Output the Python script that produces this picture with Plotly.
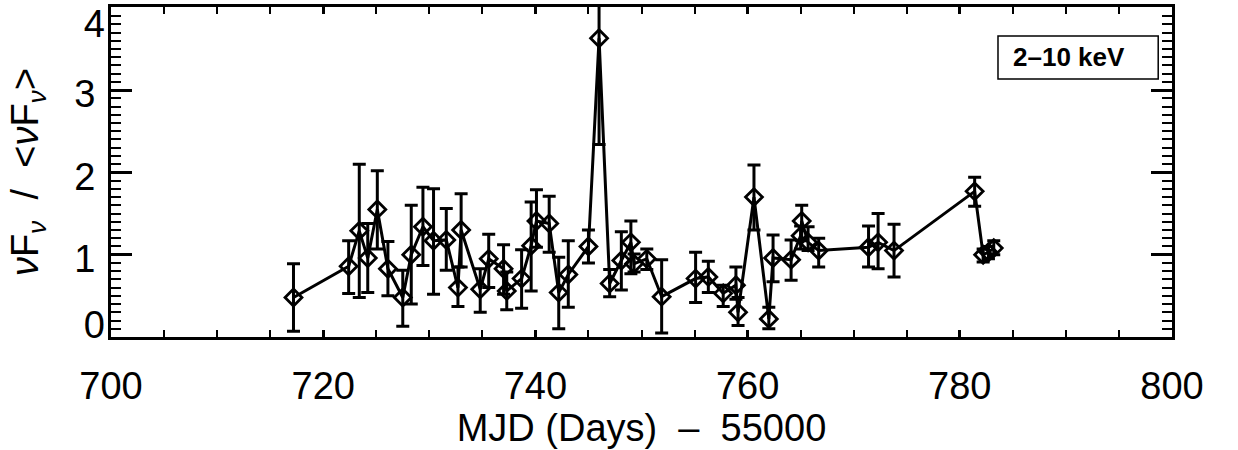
import plotly.graph_objects as go

# MJD - 55000
mjd = [717.2, 722.4, 723.4, 724.2, 725.1, 726.1, 727.5, 728.3, 729.4, 730.4,
       731.6, 732.7, 733.0, 734.8, 735.6, 737.0, 737.3, 738.7, 739.6, 740.1,
       741.3, 742.2, 743.1, 745.0, 746.0, 747.0, 748.1, 749.0, 749.3, 750.5,
       751.9, 755.1, 756.3, 757.7, 758.9, 759.1, 760.6, 762.0, 762.4, 764.1,
       765.0, 765.1, 765.7, 766.7, 771.4, 772.3, 773.8, 781.4, 782.2, 782.7,
       783.2]
# normalised flux
flux = [0.48, 0.86, 1.29, 0.96, 1.55, 0.83, 0.48, 1.00, 1.34, 1.17,
        1.18, 0.60, 1.30, 0.58, 0.95, 0.83, 0.56, 0.71, 1.11, 1.41,
        1.38, 0.54, 0.76, 1.10, 3.63, 0.65, 0.93, 1.15, 0.89, 0.95,
        0.49, 0.71, 0.73, 0.53, 0.63, 0.30, 1.70, 0.22, 0.96, 0.94,
        1.23, 1.41, 1.15, 1.05, 1.09, 1.15, 1.05, 1.77, 1.00, 1.03,
        1.08]
# upper / lower ends of the error bars
upper = [0.89, 1.17, 2.10, 1.38, 2.02, 1.16, 0.81, 1.60, 1.82, 1.80,
         1.56, 0.85, 1.74, 0.83, 1.25, 1.12, 0.79, 1.06, 1.64, 1.79,
         1.71, 0.97, 1.17, 1.30, 4.92, 0.82, 1.28, 1.41, 1.01, 1.07,
         0.94, 1.03, 0.92, 0.63, 0.85, 0.48, 2.09, 0.36, 1.24, 1.18,
         1.35, 1.60, 1.34, 1.20, 1.35, 1.50, 1.37, 1.94, 1.07, 1.10,
         1.17]
lower = [0.07, 0.53, 0.48, 0.54, 1.07, 0.50, 0.13, 0.40, 0.87, 0.52,
         0.81, 0.37, 0.85, 0.30, 0.60, 0.52, 0.33, 0.35, 0.56, 1.09,
         1.03, 0.10, 0.36, 0.90, 2.34, 0.49, 0.57, 0.77, 0.79, 0.82,
         0.05, 0.42, 0.54, 0.37, 0.46, 0.14, 1.30, 0.10, 0.67, 0.69,
         1.07, 1.17, 1.05, 0.85, 0.85, 0.83, 0.73, 1.59, 0.91, 0.95,
         1.00]

band_label = "2–10 keV"
x_ticks = [700, 720, 740, 760, 780, 800]
y_ticks_mid = [1, 2, 3]
y_tick_top = [4]
y_tick_bottom = [0]

err_plus = [u - f for u, f in zip(upper, flux)]
err_minus = [f - l for f, l in zip(flux, lower)]

FONT = "Liberation Sans, Arial, Helvetica, sans-serif"
Y_RANGE = [0, 4.01]

fig = go.Figure()
fig.add_trace(go.Scatter(
    x=mjd, y=flux,
    mode="lines+markers",
    line=dict(color="black", width=3),
    marker=dict(symbol="diamond-open", size=13, color="black",
                line=dict(color="black", width=2.8)),
    error_y=dict(type="data", symmetric=False, array=err_plus,
                 arrayminus=err_minus, color="black", thickness=3, width=6.5),
    showlegend=False,
))
# empty traces so the label-only overlay axes get drawn
for ax in ("y2", "y3"):
    fig.add_trace(go.Scatter(x=[None], y=[None], yaxis=ax, mode="markers",
                             showlegend=False, hoverinfo="skip"))

tickfont = dict(family=FONT, size=38, color="black")
axis_common = dict(
    showline=True, linecolor="black", linewidth=3, mirror="allticks",
    ticks="inside", tickcolor="black", showgrid=False, zeroline=False,
    tickfont=tickfont, ticklabeloverflow="allow", automargin=False,
)

fig.update_xaxes(
    range=[700, 800], tickvals=x_ticks, ticklen=7, tickwidth=2.5,
    minor=dict(dtick=5, tick0=700, ticks="inside", ticklen=4, tickwidth=2,
               tickcolor="black", showgrid=False),
    ticklabelstandoff=13,
    title=dict(text="MJD (Days)\u00a0\u00a0–\u00a0\u00a055000",
               font=dict(family=FONT, size=38, color="black"), standoff=0),
    **axis_common,
)
fig.update_layout(yaxis=dict(
    range=Y_RANGE, tickvals=y_ticks_mid, ticklen=21, tickwidth=2.5,
    minor=dict(dtick=0.1, tick0=0, ticks="inside", ticklen=10, tickwidth=2,
               tickcolor="black", showgrid=False),
    ticklabelstandoff=5, ticklabelshift=4,
    title=dict(text="<i>ν</i>F<sub><i>ν</i></sub>  /  &lt;<i>ν</i>F<sub><i>ν</i></sub>&gt;",
               font=dict(family=FONT, size=38, color="black"), standoff=24),
    **axis_common,
))

# label-only axes so the end labels sit inside the frame like the original
label_axis = dict(overlaying="y", side="left", range=Y_RANGE,
                  showline=False, ticks="inside", ticklen=21, tickwidth=2.5,
                  tickcolor="black", showgrid=False, zeroline=False,
                  tickfont=tickfont, ticklabeloverflow="allow",
                  automargin=False, ticklabelstandoff=5)
fig.update_layout(
    yaxis2=dict(tickvals=y_tick_top, ticklabelshift=16, **label_axis),
    yaxis3=dict(tickvals=y_tick_bottom, ticklabelshift=-12, **label_axis),
)

fig.add_shape(type="rect", xref="paper", yref="paper",
              x0=0.836, x1=0.987, y0=0.782, y1=0.912,
              line=dict(color="black", width=1.5), fillcolor="white")
fig.add_annotation(xref="paper", yref="paper", x=0.903, y=0.847,
                   text="<b>" + band_label + "</b>", showarrow=False,
                   font=dict(family=FONT, size=26, color="black"),
                   xanchor="center", yanchor="middle")

fig.update_layout(
    width=1238, height=450,
    margin=dict(l=111, r=66, t=7, b=113, autoexpand=False),
    paper_bgcolor="white", plot_bgcolor="white",
    font=dict(family=FONT, color="black"),
)

fig.write_html("out.html", config={"displayModeBar": False},
               post_script="document.body.style.margin='0';"
                           "document.body.style.overflow='hidden';")
